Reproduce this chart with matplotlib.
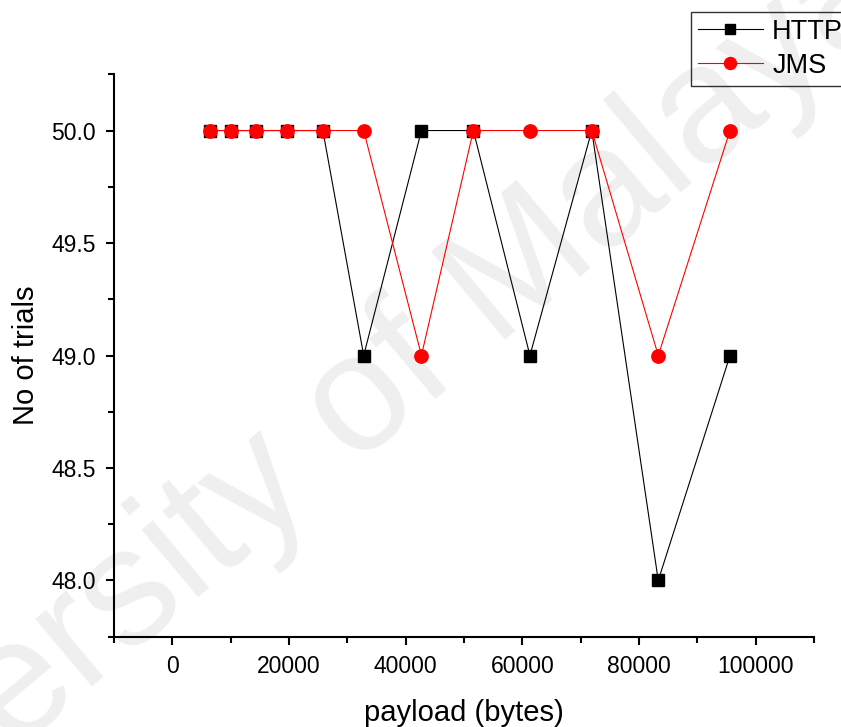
import numpy as np
from matplotlib import pyplot as plt
from matplotlib.ticker import MultipleLocator

# payload sizes (bytes)
payload = [6400, 10000, 14400, 19700, 25800, 32800, 42700, 51600, 61300, 71900, 83300, 95600]
http_trials = [50, 50, 50, 50, 50, 49, 50, 50, 49, 50, 48, 49]
jms_trials = [50, 50, 50, 50, 50, 50, 49, 50, 50, 50, 49, 50]

plt.rcParams['font.family'] = ['Liberation Sans', 'DejaVu Sans']

fig = plt.figure(figsize=(8.41, 7.27), dpi=100)

# faint watermark behind everything
fig.text(0.362, 0.378, 'University of Malaya', fontsize=120, color='#efefef',
         rotation=40, ha='center', va='center', rotation_mode='anchor', zorder=-1)

ax = fig.add_axes([0.1356, 0.1242, 0.8323, 0.7736])
ax.patch.set_alpha(0)

ax.plot(payload, http_trials, color='black', lw=0.8, marker='s', ms=8.6,
        mec='black', mfc='black', label='HTTP', zorder=3)
ax.plot(payload, jms_trials, color='red', lw=0.8, marker='o', ms=9.6,
        mec='red', mfc='red', label='JMS', zorder=4)

ax.set_xlim(-10000, 110000)
ax.set_ylim(47.75, 50.25)
ax.xaxis.set_major_locator(MultipleLocator(20000))
ax.xaxis.set_minor_locator(MultipleLocator(10000))
ax.yaxis.set_major_locator(MultipleLocator(0.5))
ax.yaxis.set_minor_locator(MultipleLocator(0.25))
ax.yaxis.set_major_formatter(plt.FormatStrFormatter('%.1f'))

for s in ['top', 'right']:
    ax.spines[s].set_visible(False)
for s in ['left', 'bottom']:
    ax.spines[s].set_linewidth(1.5)

ax.tick_params(which='major', direction='out', length=6, width=1.5, labelsize=16.5, pad=7)
ax.tick_params(which='minor', direction='out', length=4, width=1.5)

ax.set_xlabel('payload (bytes)', fontsize=21, labelpad=15)
ax.set_ylabel('No of trials', fontsize=21, labelpad=8)

leg = fig.legend(loc='upper left', bbox_to_anchor=(691 / 841, 1 - 12 / 727),
                 fontsize=19.5, frameon=True, fancybox=False,
                 edgecolor='black', borderpad=0.25, handlelength=2.4,
                 handletextpad=0.35, labelspacing=0.3, borderaxespad=0,
                 markerscale=0.9)
leg.get_frame().set_linewidth(1.0)
leg.get_frame().set_facecolor('none')

fig.savefig('out.png', dpi=100)
